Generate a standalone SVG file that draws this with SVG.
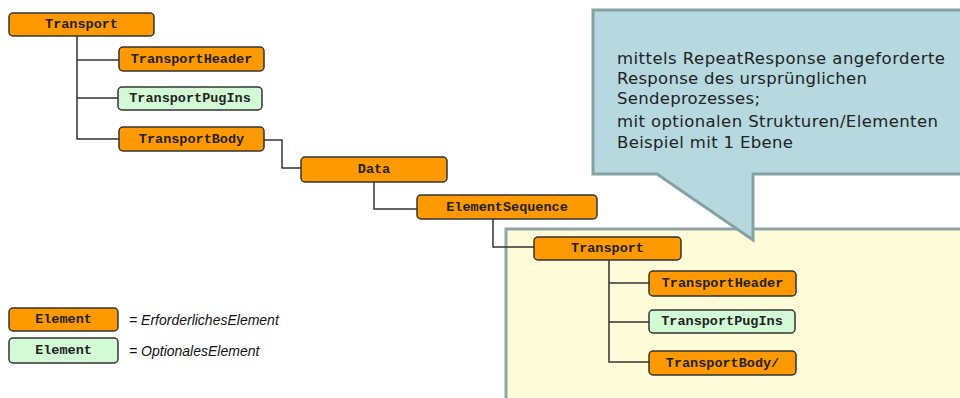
<svg xmlns="http://www.w3.org/2000/svg" width="960" height="398" viewBox="0 0 960 398">
<defs>
<style>
.req{fill:#ff9900;stroke:#333;stroke-width:1.5}
.opt{fill:#d2fad4;stroke:#333;stroke-width:1.5}
.lbl{font-family:"Liberation Mono","Courier New",monospace;font-weight:bold;font-size:13.5px;fill:#222;text-anchor:middle;dominant-baseline:central}
.conn{fill:none;stroke:#333;stroke-width:1.5}
.leg{font-family:"Liberation Sans",Arial,sans-serif;font-style:italic;font-size:14px;fill:#111;dominant-baseline:central}
.note{font-family:"DejaVu Sans",Verdana,sans-serif;font-size:16.5px;fill:#222}
</style>
</defs>
<rect width="960" height="398" fill="#ffffff"/>
<g id="subtree-area">
<rect x="506" y="229" width="460" height="180" fill="#fefbd8" stroke="#8fa5a5" stroke-width="3"/>
</g>
<g id="callout">
<path d="M593,10 H966 V174 H753 V240 L657,174 H593 Z" fill="#b5d9df" stroke="#84a2a4" stroke-width="3" stroke-linejoin="miter"/>
<text class="note" x="617" y="64" textLength="328" lengthAdjust="spacing">mittels RepeatResponse angeforderte</text>
<text class="note" x="617" y="84" textLength="250" lengthAdjust="spacing">Response des ursprünglichen</text>
<text class="note" x="617" y="104" textLength="143" lengthAdjust="spacing">Sendeprozesses;</text>
<text class="note" x="617" y="127" textLength="321" lengthAdjust="spacing">mit optionalen Strukturen/Elementen</text>
<text class="note" x="617" y="148" textLength="176" lengthAdjust="spacing">Beispiel mit 1 Ebene</text>
</g>
<g id="connectors">
<path class="conn" d="M77,36 V139 H119 M77,60 H119 M77,98 H118"/>
<path class="conn" d="M264,140 H282 V168 H301"/>
<path class="conn" d="M374,182 V209 H417"/>
<path class="conn" d="M493,219 V247 H534"/>
<path class="conn" d="M609,260 V362 H649 M609,283 H649 M609,322 H649"/>
</g>
<g id="n-transport"><rect class="req" x="9" y="13" width="145" height="23" rx="4"/><text class="lbl" x="81.5" y="24.5">Transport</text></g>
<g id="n-transportheader"><rect class="req" x="119" y="47" width="145" height="24" rx="4"/><text class="lbl" x="191.5" y="59">TransportHeader</text></g>
<g id="n-transportpugins"><rect class="opt" x="118" y="87" width="144" height="23" rx="4"/><text class="lbl" x="190" y="98.5">TransportPugIns</text></g>
<g id="n-transportbody"><rect class="req" x="119" y="127" width="145" height="24" rx="4"/><text class="lbl" x="191.5" y="139">TransportBody</text></g>
<g id="n-data"><rect class="req" x="301" y="157" width="146" height="25" rx="4"/><text class="lbl" x="374" y="169.5">Data</text></g>
<g id="n-elementsequence"><rect class="req" x="417" y="195" width="180" height="24" rx="4"/><text class="lbl" x="507" y="207">ElementSequence</text></g>
<g id="n-transport2"><rect class="req" x="534" y="237" width="147" height="23" rx="4"/><text class="lbl" x="607.5" y="248.5">Transport</text></g>
<g id="n-transportheader2"><rect class="req" x="649" y="271" width="147" height="25" rx="4"/><text class="lbl" x="722.5" y="283.5">TransportHeader</text></g>
<g id="n-transportpugins2"><rect class="opt" x="649" y="310" width="146" height="23" rx="4"/><text class="lbl" x="722" y="321.5">TransportPugIns</text></g>
<g id="n-transportbody2"><rect class="req" x="649" y="351" width="147" height="24" rx="4"/><text class="lbl" x="722.5" y="363">TransportBody/</text></g>
<g id="legend">
<g id="legend-req"><rect class="req" x="9" y="308" width="109" height="23" rx="4"/><text class="lbl" x="63.5" y="319.5">Element</text><text class="leg" x="129" y="319.5">= ErforderlichesElement</text></g>
<g id="legend-opt"><rect class="opt" x="9" y="338" width="109" height="25" rx="4"/><text class="lbl" x="63.5" y="350.5">Element</text><text class="leg" x="129" y="350.5">= OptionalesElement</text></g>
</g>
</svg>
